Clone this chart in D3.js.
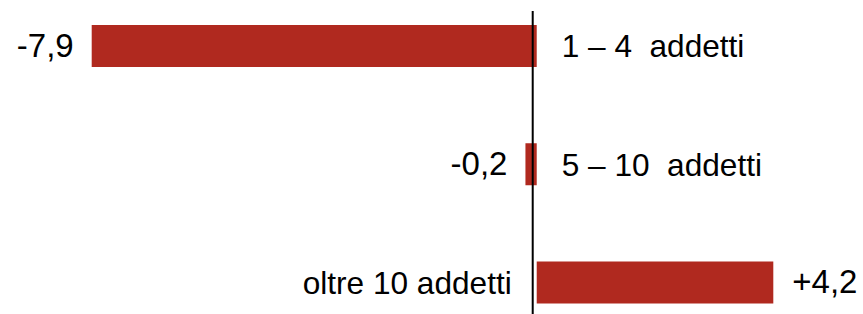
<!DOCTYPE html>
<html>
<head>
<meta charset="utf-8">
<script src="https://cdn.jsdelivr.net/npm/d3@7"></script>
<style>
  body { margin: 0; background: #fff; }
  text { font-family: "Liberation Sans", Arial, sans-serif; fill: #000; white-space: pre; }
</style>
</head>
<body>
<svg id="chart"></svg>
<script>
// data
var categories = ["1 – 4  addetti", "5 – 10  addetti", "oltre 10 addetti"];
var values = [-7.9, -0.2, 4.2];
var valueLabels = ["-7,9", "-0,2", "+4,2"];

function drawChart() {
  var width = 863, height = 314;
  var svg = d3.select("#chart").attr("width", width).attr("height", height);

  var x = d3.scaleLinear()
    .domain([-7.9, 4.2])
    .range([91.7, 773.3]);

  var y = d3.scalePoint()
    .domain(categories)
    .range([46, 282.5]);

  var barH = 42;
  var data = categories.map(function(c, i) {
    return { cat: c, value: values[i], label: valueLabels[i] };
  });

  // bars
  svg.selectAll("rect.bar")
    .data(data)
    .enter()
    .append("rect")
    .attr("class", "bar")
    .attr("x", function(d) { return x(Math.min(0, d.value)); })
    .attr("y", function(d) { return y(d.cat) - barH / 2; })
    .attr("width", function(d) { return Math.abs(x(d.value) - x(0)); })
    .attr("height", barH)
    .style("fill", "#b0291f");

  // vertical axis line (sits a little left of the zero point)
  svg.append("line")
    .attr("x1", x(0) - 4).attr("x2", x(0) - 4)
    .attr("y1", 11).attr("y2", height)
    .style("stroke", "#000")
    .style("stroke-width", 2);

  // category labels, opposite side of the bar
  svg.selectAll("text.cat")
    .data(data)
    .enter()
    .append("text")
    .attr("class", "cat")
    .attr("x", function(d) { return d.value < 0 ? x(0) + 25 : x(0) - 25; })
    .attr("y", function(d) { return y(d.cat); })
    .attr("dy", "0.36em")
    .attr("text-anchor", function(d) { return d.value < 0 ? "start" : "end"; })
    .style("font-size", "31.6px")
    .text(function(d) { return d.cat; });

  // value labels at the bar end
  svg.selectAll("text.val")
    .data(data)
    .enter()
    .append("text")
    .attr("class", "val")
    .attr("x", function(d) { return d.value < 0 ? x(d.value) - 18 : x(d.value) + 19; })
    .attr("y", function(d) { return y(d.cat); })
    .attr("dy", "0.33em")
    .attr("text-anchor", function(d) { return d.value < 0 ? "end" : "start"; })
    .style("font-size", "33px")
    .text(function(d) { return d.label; });
}

drawChart();
</script>
</body>
</html>
